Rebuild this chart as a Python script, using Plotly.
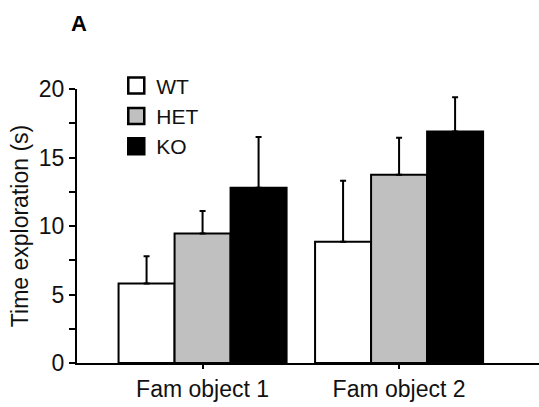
import plotly.graph_objects as go

categories = ["Fam object 1", "Fam object 2"]
groups = ["WT", "HET", "KO"]
wt_mean = [5.8, 8.85]
wt_err = [2.0, 4.45]
het_mean = [9.45, 13.75]
het_err = [1.65, 2.7]
ko_mean = [12.8, 16.9]
ko_err = [3.7, 2.5]
y_ticks = [0, 5, 10, 15, 20]

colors = {"WT": "#ffffff", "HET": "#c0c0c0", "KO": "#000000"}
means = {"WT": wt_mean, "HET": het_mean, "KO": ko_mean}
errs = {"WT": wt_err, "HET": het_err, "KO": ko_err}
xpos = list(range(len(categories)))

FONT = "Arial, Liberation Sans, sans-serif"
fig = go.Figure()
for g in groups:
    fig.add_trace(go.Bar(
        x=xpos, y=means[g], name=g, showlegend=False,
        marker=dict(color=colors[g], line=dict(color="black", width=2)),
        error_y=dict(type="data", array=errs[g], arrayminus=[0] * len(xpos),
                     symmetric=False, color="black", thickness=2, width=3),
    ))
for g in groups:
    fig.add_trace(go.Scatter(
        x=[None], y=[None], mode="markers", name=g,
        marker=dict(symbol="square", size=16, color=colors[g],
                    line=dict(color="black", width=2.5)),
    ))

fig.update_layout(
    width=539, height=407,
    margin=dict(l=77, r=0, t=89, b=44),
    plot_bgcolor="white", paper_bgcolor="white",
    barmode="group", bargap=0.145, bargroupgap=0,
    font=dict(family=FONT, size=23, color="#111111"),
    legend=dict(x=0.085, y=1.086, xanchor="left", yanchor="top",
                font=dict(size=21), tracegroupgap=0, itemsizing="trace",
                bgcolor="rgba(0,0,0,0)"),
    annotations=[dict(text="<b>A</b>", x=0.005, y=1.24, xref="paper", yref="paper",
                      xanchor="center", yanchor="middle", showarrow=False,
                      font=dict(size=22, color="black"))],
)
fig.update_xaxes(
    range=[-0.639, 1.712], tickvals=xpos, ticktext=categories,
    showline=True, linecolor="black", linewidth=2,
    ticks="outside", ticklen=4, tickwidth=2, tickcolor="black",
    showgrid=False, zeroline=False, tickfont=dict(size=23),
)
fig.update_yaxes(
    range=[0, 20], tickvals=y_ticks,
    showline=True, linecolor="black", linewidth=2,
    ticks="outside", ticklen=6, tickwidth=2, tickcolor="black",
    minor=dict(dtick=2.5, ticks="outside", ticklen=6, tickwidth=2, tickcolor="black"),
    showgrid=False, zeroline=False, tickfont=dict(size=23),
    title=dict(text="Time exploration (s)", font=dict(size=23), standoff=4),
)
fig.write_html("out.html")
